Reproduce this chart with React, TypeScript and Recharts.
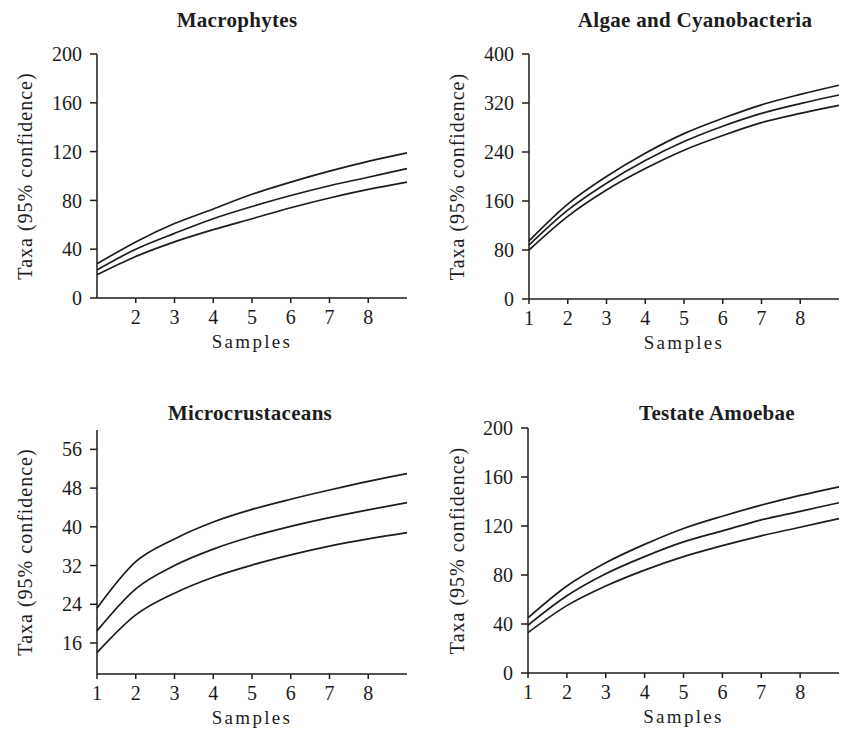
import { LineChart, Line, XAxis, YAxis } from 'recharts';

const samples = [1, 2, 3, 4, 5, 6, 7, 8, 9];

const macroUpper = [28, 46, 61, 73, 85, 95, 104, 112, 119];
const macroMid = [23, 40, 53, 65, 75, 84, 92, 99, 106];
const macroLower = [19, 34, 46, 56, 65, 74, 82, 89, 95];

const algaeUpper = [95, 155, 200, 238, 270, 295, 317, 334, 349];
const algaeMid = [88, 145, 189, 226, 257, 282, 303, 319, 333];
const algaeLower = [80, 135, 178, 213, 243, 267, 288, 303, 316];

const microUpper = [23.2, 32.8, 37.5, 41, 43.6, 45.7, 47.6, 49.4, 51];
const microMid = [18.5, 27.2, 32, 35.4, 38, 40.1, 41.9, 43.5, 45];
const microLower = [14, 21.8, 26.3, 29.6, 32.1, 34.2, 36, 37.5, 38.8];

const testUpper = [45, 71, 90, 105, 118, 128, 137, 145, 152];
const testMid = [39, 63, 81, 95, 107, 116, 125, 132, 139];
const testLower = [33, 55, 71, 84, 95, 104, 112, 119, 126];

const ticks0to200 = [0, 40, 80, 120, 160, 200];
const ticks0to400 = [0, 80, 160, 240, 320, 400];
const ticksMicro = [16, 24, 32, 40, 48, 56];
const sampleTicks = [1, 2, 3, 4, 5, 6, 7, 8];

const INK = '#1c1c1c';
const FONT = '"Liberation Serif", "DejaVu Serif", serif';

function rows(upper: number[], mid: number[], lower: number[]) {
  return samples.map((s, i) => ({ s, upper: upper[i], mid: mid[i], lower: lower[i] }));
}

function YTitle({ viewBox, edge }: any) {
  const vb = viewBox || { x: 0, y: 0, height: 0 };
  const cx = vb.x + edge;
  const cy = vb.y + vb.height / 2;
  return (
    <text x={cx} y={cy} transform={`rotate(-90 ${cx} ${cy})`} textAnchor="middle"
      fontFamily={FONT} fontSize={20} letterSpacing={1} fill={INK}>
      Taxa (95% confidence)
    </text>
  );
}

function XTitle({ viewBox }: any) {
  const vb = viewBox || { x: 0, y: 0, width: 0 };
  return (
    <text x={vb.x + vb.width / 2} y={vb.y + 50} textAnchor="middle"
      fontFamily={FONT} fontSize={19} letterSpacing={2.3} fill={INK}>
      Samples
    </text>
  );
}

type PanelProps = {
  left: number; top: number; width: number; height: number;
  margin: { top: number; right: number; left: number; bottom: number };
  yWidth: number; labelEdge: number;
  data: any[]; domain: [number, number]; yTicks: number[]; xTicks: number[];
};

function Panel({ left, top, width, height, margin, yWidth, labelEdge, data, domain, yTicks, xTicks }: PanelProps) {
  const tick = { fill: INK, fontSize: 20, fontFamily: FONT };
  const axisLine = { stroke: INK, strokeWidth: 1.5 };
  return (
    <div style={{ position: 'absolute', left, top }}>
      <LineChart width={width} height={height} data={data} margin={margin}>
        <XAxis
          dataKey="s" type="number" domain={[1, 9]} ticks={xTicks} interval={0}
          tick={tick} axisLine={axisLine} tickLine={axisLine} tickSize={5} tickMargin={7}
          height={60} label={<XTitle />}
        />
        <YAxis
          type="number" domain={domain} ticks={yTicks} interval={0} allowDataOverflow
          tick={tick} axisLine={axisLine} tickLine={axisLine} tickSize={7} tickMargin={8}
          width={yWidth} label={<YTitle edge={labelEdge} />}
        />
        {['upper', 'mid', 'lower'].map(k => (
          <Line key={k} type="monotone" dataKey={k} stroke={INK} strokeWidth={1.7}
            dot={false} isAnimationActive={false} />
        ))}
      </LineChart>
    </div>
  );
}

const titles = [
  { text: 'Macrophytes', x: 237, y: 27 },
  { text: 'Algae and Cyanobacteria', x: 695, y: 27 },
  { text: 'Microcrustaceans', x: 250, y: 420 },
  { text: 'Testate Amoebae', x: 717, y: 420 },
];

export default function App() {
  return (
    <div style={{ position: 'absolute', left: 0, top: 0, width: 841, height: 731, background: '#fff', overflow: 'hidden' }}>
      <Panel left={0} top={0} width={420} height={365}
        margin={{ top: 54, right: 13, left: 0, bottom: 7 }} yWidth={97} labelEdge={32}
        data={rows(macroUpper, macroMid, macroLower)} domain={[0, 200]}
        yTicks={ticks0to200} xTicks={[2, 3, 4, 5, 6, 7, 8]} />
      <Panel left={420} top={0} width={421} height={365}
        margin={{ top: 54, right: 2, left: 0, bottom: 6 }} yWidth={109} labelEdge={44}
        data={rows(algaeUpper, algaeMid, algaeLower)} domain={[0, 400]}
        yTicks={ticks0to400} xTicks={sampleTicks} />
      <Panel left={0} top={365} width={420} height={366}
        margin={{ top: 65, right: 13, left: 0, bottom: -3 }} yWidth={97} labelEdge={32}
        data={rows(microUpper, microMid, microLower)} domain={[9.6, 60]}
        yTicks={ticksMicro} xTicks={sampleTicks} />
      <Panel left={420} top={365} width={421} height={366}
        margin={{ top: 63, right: 2, left: 0, bottom: -2 }} yWidth={108} labelEdge={44}
        data={rows(testUpper, testMid, testLower)} domain={[0, 200]}
        yTicks={ticks0to200} xTicks={sampleTicks} />
      <svg width={841} height={731} style={{ position: 'absolute', left: 0, top: 0, pointerEvents: 'none' }}>
        {titles.map(t => (
          <text key={t.text} x={t.x} y={t.y} textAnchor="middle" fontFamily={FONT}
            fontSize={21} fontWeight="bold" letterSpacing={0.3} fill={INK}>
            {t.text}
          </text>
        ))}
      </svg>
    </div>
  );
}
